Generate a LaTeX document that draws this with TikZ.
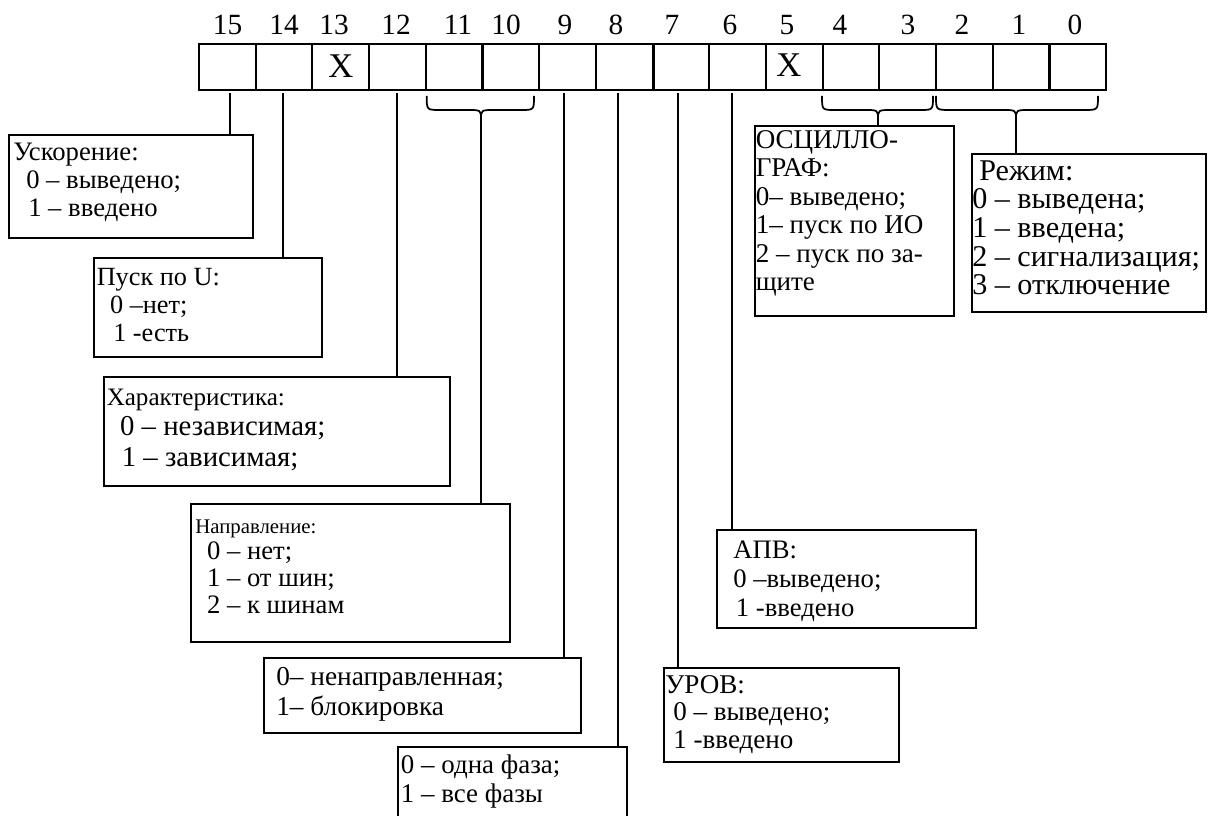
\documentclass[tikz,border=0pt]{standalone}
\usepackage{fontspec}
\setmainfont{Liberation Serif}
\begin{document}
\begin{tikzpicture}[x=0.75pt,y=-0.75pt,
  cell/.style={draw, line width=1.5pt, minimum width=42.5pt, minimum height=34.5pt, inner sep=0pt, anchor=north west},
  hdr/.style={font=\fontsize{22}{26}\selectfont, inner sep=0pt, anchor=base},
  mark x/.style={font=\fontsize{26}{28}\selectfont, inner sep=0pt},
  bx/.style={draw, line width=1.3pt, inner sep=0pt, anchor=north west},
  tx/.style={inner sep=0pt, anchor=north west, align=left},
  conn/.style={line width=1.3pt},
  brc/.style={line width=1.3pt}]
\useasboundingbox (0,0) rectangle (1211,816);
% register cells
\foreach \b in {0,...,15} {\node[cell] (c\b) at ({198+(15-\b)*56.7},43.3) {};}
\draw[line width=2.8pt] (c8.north east) -- (c8.south east);
% header numbers
\node[hdr] (h15) at (227.5,35) {15};
\node[hdr] (h14) at (284,35) {14};
\node[hdr] (h13) at (334,35) {13};
\node[hdr] (h12) at (396,35) {12};
\node[hdr] (h11) at (458,35) {11};
\node[hdr] (h10) at (506,35) {10};
\node[hdr] (h9) at (565,35) {9};
\node[hdr] (h8) at (616,35) {8};
\node[hdr] (h7) at (672,35) {7};
\node[hdr] (h6) at (730,35) {6};
\node[hdr] (h5) at (787,35) {5};
\node[hdr] (h4) at (840,35) {4};
\node[hdr] (h3) at (908,35) {3};
\node[hdr] (h2) at (962,35) {2};
\node[hdr] (h1) at (1019,35) {1};
\node[hdr] (h0) at (1075,35) {0};
% X marks
\node[mark x] (x13) at (340.8,66) {X};
\node[mark x] (x5) at (789,65) {X};
% braces
\draw[brc] (426.7,96) .. controls (426.7,110) .. (440,110) -- (467,110) .. controls (481,110) .. (481,119) .. controls (481,110) .. (495,110) -- (521,110) .. controls (534,110) .. (534,96);
\coordinate (k1) at (481,119);
\draw[brc] (822,96) .. controls (822,110) .. (835,110) -- (864,110) .. controls (878,110) .. (878,119) .. controls (878,110) .. (892,110) -- (920,110) .. controls (933,110) .. (933,96);
\coordinate (k2) at (878,119);
\draw[brc] (936,96) .. controls (936,110) .. (950,110) -- (1002,110) .. controls (1016,110) .. (1016,119) .. controls (1016,110) .. (1030,110) -- (1084,110) .. controls (1098,110) .. (1098,96);
\coordinate (k3) at (1016,119);
% boxes
\node[bx, minimum width=183pt, minimum height=77.25pt] (b1) at (8,134) {};
\node[bx, minimum width=171pt, minimum height=74.25pt] (b2) at (93,257) {};
\node[bx, minimum width=259.5pt, minimum height=81.75pt] (b3) at (103,376) {};
\node[bx, minimum width=239.25pt, minimum height=103.5pt] (b4) at (190,503) {};
\node[bx, minimum width=237.75pt, minimum height=56.25pt] (b5) at (263,657) {};
\node[bx, minimum width=171.75pt, minimum height=70pt] (b6) at (397,746) {};
\node[bx, minimum width=176.25pt, minimum height=70.5pt] (b7) at (663,667) {};
\node[bx, minimum width=194.25pt, minimum height=73.5pt] (b8) at (716,529) {};
\node[bx, minimum width=149.25pt, minimum height=142.5pt] (b9) at (754,125) {};
\node[bx, minimum width=175.5pt, minimum height=118.5pt] (b10) at (971,153) {};
% texts (first-line strut 17pt = 22.67px above the first baseline)
\node[tx, font=\fontsize{20}{21}\selectfont] (t1) at (13,137.3) {\rule{0pt}{17pt}Ускорение:\\\hspace*{9.75pt}0 – выведено;\\\hspace*{11.25pt}1 – введено};
\node[tx, font=\fontsize{19.7}{21}\selectfont] (t2) at (96.5,262.3) {\rule{0pt}{17pt}Пуск по U:\\\hspace*{10pt}0 –нет;\\\hspace*{12.4pt}1 -есть};
\node[tx, font=\fontsize{21.6}{22.9}\selectfont] (t3) at (106.5,382.3) {\rule{0pt}{17pt}{\fontsize{18.8}{22.9}\selectfont Характеристика:}\\\hspace*{10pt}0 – независимая;\\\hspace*{11.3pt}1 – зависимая;};
\node[tx, font=\fontsize{20}{20}\selectfont] (t4) at (195,510.3) {\rule{0pt}{17pt}{\fontsize{15.6}{20}\selectfont Направление:}\\\hspace*{8.8pt}0 – нет;\\\hspace*{8.8pt}1 – от шин;\\\hspace*{8.8pt}2 – к шинам};
\node[tx, font=\fontsize{20.5}{22.5}\selectfont] (t5) at (276,662.3) {\rule{0pt}{17pt}0– ненаправленная;\\1– блокировка};
\node[tx, font=\fontsize{20.2}{21.75}\selectfont] (t6) at (400.7,750.3) {\rule{0pt}{17pt}0 – одна фаза;\\1 – все фазы};
\node[tx, font=\fontsize{20.3}{20.6}\selectfont] (t7) at (665,670.3) {\rule{0pt}{17pt}УРОВ:\\\hspace*{6pt}0 – выведено;\\\hspace*{6pt}1 -введено};
\node[tx, font=\fontsize{20}{21.75}\selectfont] (t8) at (733,535.3) {\rule{0pt}{17pt}АПВ:\\0 –выведено;\\\hspace*{2pt}1 -введено};
\node[tx, font=\fontsize{20.3}{21.4}\selectfont] (t9) at (755.5,125.3) {\rule{0pt}{17pt}ОСЦИЛЛО-\\ГРАФ:\\0– выведено;\\1– пуск по ИО\\2 – пуск по за-\\щите};
\node[tx, font=\fontsize{22.6}{21.5}\selectfont] (t10) at (972,157.3) {\rule{0pt}{17pt}\hspace*{5.25pt}Режим:\\0 – выведена;\\1 – введена;\\2 – сигнализация;\\3 – отключение};
% connectors
\coordinate (p15) at (230,93);
\coordinate (p14) at (282.7,93);
\coordinate (p12) at (396.7,93);
\coordinate (p9) at (564.3,93);
\coordinate (p8) at (617.7,93);
\coordinate (p7) at (678.3,93);
\coordinate (p6) at (731.7,93);
\draw[conn] (p15) -- (p15 |- b1.north);
\draw[conn] (p14) -- (p14 |- b2.north);
\draw[conn] (p12) -- (p12 |- b3.north);
\draw[conn] (k1) -- (k1 |- b4.north);
\draw[conn] (p9) -- (p9 |- b5.north);
\draw[conn] (p8) -- (p8 |- b6.north);
\draw[conn] (p7) -- (p7 |- b7.north);
\draw[conn] (p6) -- (p6 |- b8.north);
\draw[conn] (k2) -- (k2 |- b9.north);
\draw[conn] (k3) -- (k3 |- b10.north);
\end{tikzpicture}
\end{document}
